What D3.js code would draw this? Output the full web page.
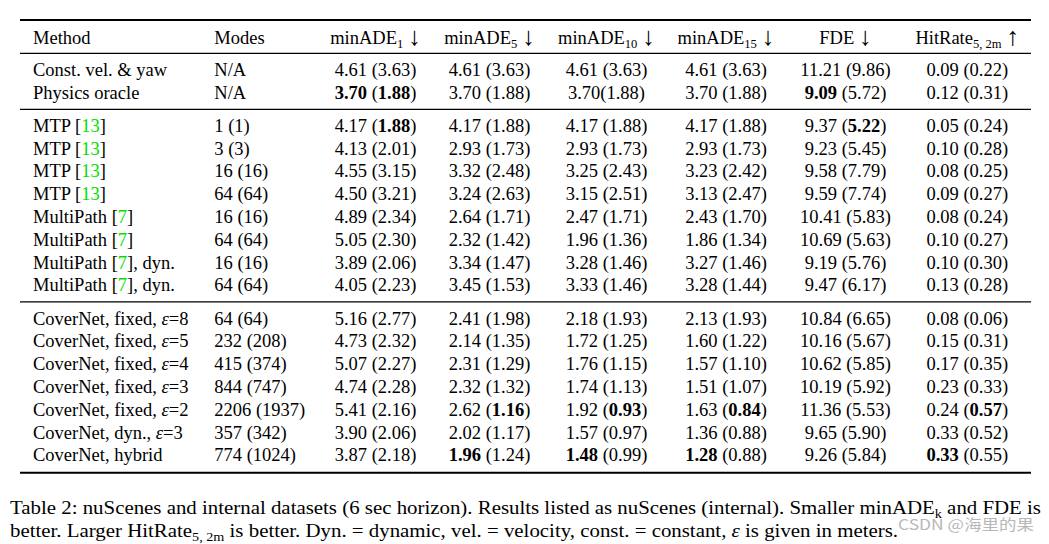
<!DOCTYPE html>
<html><head><meta charset="utf-8">
<script src="https://cdn.jsdelivr.net/npm/d3@7"></script>
<style>
html,body{margin:0;padding:0;background:#fff;}
svg{display:block;}
</style></head>
<body>
<svg id="chart" width="1049" height="544"></svg>
<script>
// Markup: * bold, # green citation, ~ italic, ^ subscript, | arrow glyph
const headers = ["Method","Modes","minADE^1^ |↓|","minADE^5^ |↓|","minADE^10^ |↓|","minADE^15^ |↓|","FDE |↓|","HitRate^5, 2m^ |↑|"];
const groupSizes = [2, 8, 7];
const methods = ["Const. vel. & yaw","Physics oracle",
  "MTP [#13#]","MTP [#13#]","MTP [#13#]","MTP [#13#]",
  "MultiPath [#7#]","MultiPath [#7#]","MultiPath [#7#], dyn.","MultiPath [#7#], dyn.",
  "CoverNet, fixed, ~ε~=8","CoverNet, fixed, ~ε~=5","CoverNet, fixed, ~ε~=4","CoverNet, fixed, ~ε~=3",
  "CoverNet, fixed, ~ε~=2","CoverNet, dyn., ~ε~=3","CoverNet, hybrid"];
const modes = ["N/A","N/A","1 (1)","3 (3)","16 (16)","64 (64)","16 (16)","64 (64)","16 (16)","64 (64)",
  "64 (64)","232 (208)","415 (374)","844 (747)","2206 (1937)","357 (342)","774 (1024)"];
const minADE1 = ["4.61 (3.63)","*3.70* (*1.88*)","4.17 (*1.88*)","4.13 (2.01)","4.55 (3.15)","4.50 (3.21)","4.89 (2.34)","5.05 (2.30)","3.89 (2.06)","4.05 (2.23)",
  "5.16 (2.77)","4.73 (2.32)","5.07 (2.27)","4.74 (2.28)","5.41 (2.16)","3.90 (2.06)","3.87 (2.18)"];
const minADE5 = ["4.61 (3.63)","3.70 (1.88)","4.17 (1.88)","2.93 (1.73)","3.32 (2.48)","3.24 (2.63)","2.64 (1.71)","2.32 (1.42)","3.34 (1.47)","3.45 (1.53)",
  "2.41 (1.98)","2.14 (1.35)","2.31 (1.29)","2.32 (1.32)","2.62 (*1.16*)","2.02 (1.17)","*1.96* (1.24)"];
const minADE10 = ["4.61 (3.63)","3.70(1.88)","4.17 (1.88)","2.93 (1.73)","3.25 (2.43)","3.15 (2.51)","2.47 (1.71)","1.96 (1.36)","3.28 (1.46)","3.33 (1.46)",
  "2.18 (1.93)","1.72 (1.25)","1.76 (1.15)","1.74 (1.13)","1.92 (*0.93*)","1.57 (0.97)","*1.48* (0.99)"];
const minADE15 = ["4.61 (3.63)","3.70 (1.88)","4.17 (1.88)","2.93 (1.73)","3.23 (2.42)","3.13 (2.47)","2.43 (1.70)","1.86 (1.34)","3.27 (1.46)","3.28 (1.44)",
  "2.13 (1.93)","1.60 (1.22)","1.57 (1.10)","1.51 (1.07)","1.63 (*0.84*)","1.36 (0.88)","*1.28* (0.88)"];
const fde = ["11.21 (9.86)","*9.09* (5.72)","9.37 (*5.22*)","9.23 (5.45)","9.58 (7.79)","9.59 (7.74)","10.41 (5.83)","10.69 (5.63)","9.19 (5.76)","9.47 (6.17)",
  "10.84 (6.65)","10.16 (5.67)","10.62 (5.85)","10.19 (5.92)","11.36 (5.53)","9.65 (5.90)","9.26 (5.84)"];
const hitRate = ["0.09 (0.22)","0.12 (0.31)","0.05 (0.24)","0.10 (0.28)","0.08 (0.25)","0.09 (0.27)","0.08 (0.24)","0.10 (0.27)","0.10 (0.30)","0.13 (0.28)",
  "0.08 (0.06)","0.15 (0.31)","0.17 (0.35)","0.23 (0.33)","0.24 (*0.57*)","0.33 (0.52)","*0.33* (0.55)"];
const captionLines = [
  "Table 2: nuScenes and internal datasets (6 sec horizon). Results listed as nuScenes (internal). Smaller minADE^k^ and FDE is",
  "better. Larger HitRate^5, 2m^ is better. Dyn. = dynamic, vel. = velocity, const. = constant, ~ε~ is given in meters."
];
const watermark = "CSDN @海里的果";

const columns = [methods, modes, minADE1, minADE5, minADE10, minADE15, fde, hitRate];

const svg = d3.select("#chart");
const FONT = "'Liberation Serif','Times New Roman',Times,'DejaVu Serif',serif";
const FS = 18.5;

// column positions
const colX = d3.scaleOrdinal().domain(d3.range(8)).range([33, 214.3, 375.5, 489.5, 606.5, 726, 845.5, 967.3]);
const colAnchor = i => i < 2 ? "start" : "middle";

// row positions
const rowH = 22.8, gapSlots = 0.45;
const rowGroup = [];
groupSizes.forEach((n, g) => { for (let k = 0; k < n; k++) rowGroup.push(g); });
const yScale = d3.scaleLinear().domain([0, 1]).range([76, 76 + rowH]);
const rowY = i => yScale(i + rowGroup[i] * gapSlots);
const headerY = 43.5;

function rich(textSel, str, fs) {
  let bold = false, green = false, ital = false, sub = false, arrow = false, shift = 0;
  const parts = str.split(/([*#~^|])/);
  parts.forEach(p => {
    if (p === "*") { bold = !bold; return; }
    if (p === "#") { green = !green; return; }
    if (p === "~") { ital = !ital; return; }
    if (p === "^") { sub = !sub; return; }
    if (p === "|") { arrow = !arrow; return; }
    if (p === "") return;
    const t = textSel.append("tspan").text(p);
    const target = sub ? fs * 0.24 : (arrow ? fs * 0.1 : 0);
    if (target !== shift) { t.attr("dy", target - shift); shift = target; }
    if (sub) t.attr("font-size", fs * 0.68);
    if (arrow) t.attr("font-size", fs * 1.4);
    if (bold) t.attr("font-weight", "bold");
    if (green) t.attr("fill", "#00e000");
    if (ital) t.attr("font-style", "italic");
  });
}

const g = svg.append("g").attr("font-family", FONT).attr("font-size", FS).attr("fill", "#000");

// header
headers.forEach((h, i) => {
  const t = g.append("text").attr("x", colX(i)).attr("y", headerY).attr("text-anchor", colAnchor(i));
  rich(t, h, FS);
});

// body
columns.forEach((col, ci) => {
  col.forEach((v, ri) => {
    const t = g.append("text").attr("x", colX(ci)).attr("y", rowY(ri)).attr("text-anchor", colAnchor(ci));
    rich(t, v, FS);
  });
});

// rules
const x0 = 20, x1 = 1031;
const ends = d3.cumsum(groupSizes).map(n => n - 1);
const rules = [{y: 20, w: 2}, {y: 53.3, w: 1.2}];
ends.forEach((e, k) => {
  if (k < ends.length - 1) rules.push({y: rowY(e) + 10.5, w: 1.2});
  else rules.push({y: rowY(e) + 11.4, w: 2});
});
svg.selectAll("line.rule").data(rules).join("line").attr("class", "rule")
  .attr("x1", x0).attr("x2", x1).attr("y1", d => d.y).attr("y2", d => d.y)
  .attr("stroke", "#000").attr("stroke-width", d => d.w);

// caption
const capY = [514, 537];
const capW = [1031, 888];
captionLines.forEach((line, i) => {
  const t = svg.append("text").attr("x", 10).attr("y", capY[i])
    .attr("font-family", FONT).attr("font-size", 18.5)
    .attr("textLength", capW[i]).attr("lengthAdjust", "spacingAndGlyphs");
  rich(t, line, 18.5);
});

// watermark
svg.append("text").attr("x", 898).attr("y", 530)
  .attr("font-family", "'Noto Sans CJK SC','Noto Sans',sans-serif").attr("font-size", 14.5)
  .attr("fill", "#b8b8b8").attr("textLength", 136).attr("lengthAdjust", "spacingAndGlyphs")
  .text(watermark);
</script>
</body></html>
